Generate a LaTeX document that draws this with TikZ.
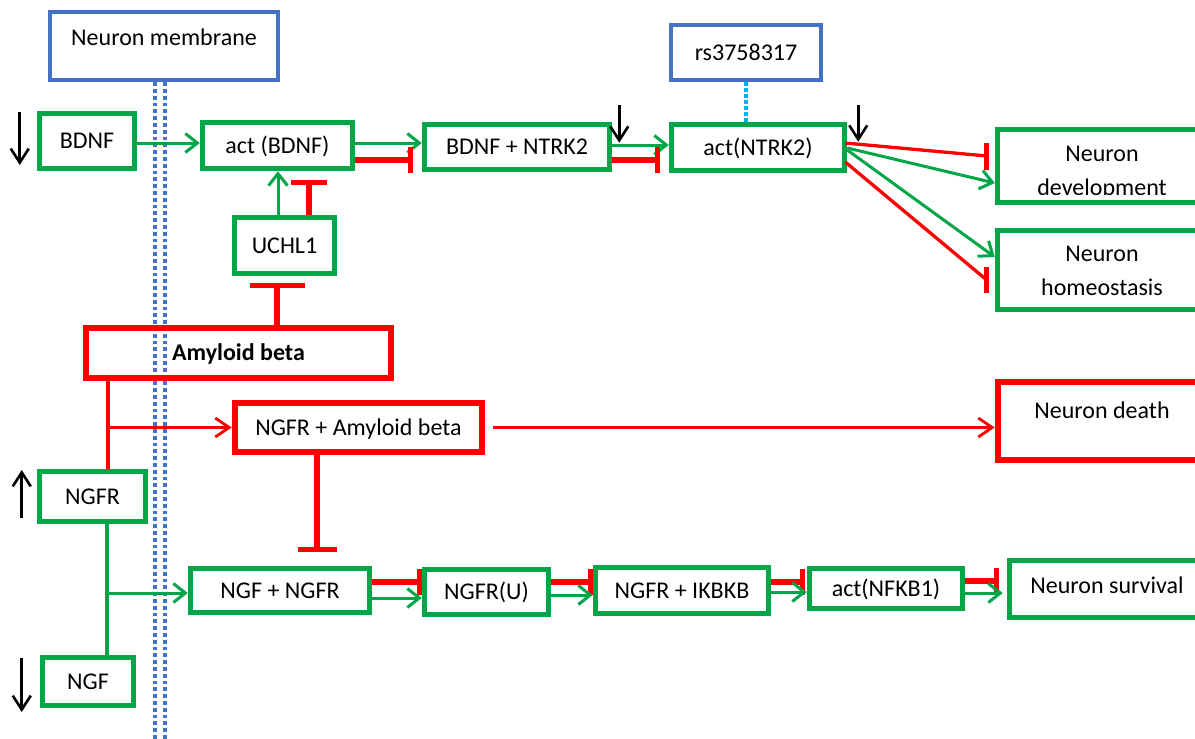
\documentclass[tikz,border=0pt]{standalone}
\usepackage{fontspec}
\setmainfont{Carlito}
\usetikzlibrary{arrows.meta,calc}
\definecolor{pgreen}{RGB}{0,166,72}
\definecolor{pred}{RGB}{255,0,0}
\definecolor{pblue}{RGB}{68,114,196}
\definecolor{psnp}{RGB}{0,176,240}

\begin{document}
\begin{tikzpicture}[x=1pt,y=-1pt,
  box/.style={draw, rectangle, inner sep=0pt, text height=16pt, text depth=1pt,
    font=\fontsize{24}{29}\selectfont},
  gbox/.style={box, draw=pgreen, line width=5.5pt},
  rbox/.style={box, draw=pred, line width=6.5pt},
  bbox/.style={box, draw=pblue, line width=4.5pt},
  lbl/.style={inner sep=0pt, align=center, font=\fontsize{24}{34}\selectfont},
  actarr/.style={draw=pgreen, line width=3pt, -{Straight Barb[length=12pt,width=19pt]}},
  gline/.style={draw=pgreen, line width=3.2pt},
  redarr/.style={draw=pred, line width=2.8pt, -{Straight Barb[length=14pt,width=19pt]}},
  redline/.style={draw=pred, line width=3.5pt},
  inhline/.style={draw=pred, line width=5.5pt, -{Bar[width=#1,line width=5pt]}},
  inhline/.default=26pt,
  thinred/.style={draw=pred, line width=3.3pt},
  tbar/.style={draw=pred, line width=5pt},
  memline/.style={draw=pblue, line width=4pt, dash pattern=on 3.8pt off 3pt},
  snpline/.style={draw=psnp, line width=3.5pt, dash pattern=on 3.5pt off 2.5pt},
  trend/.style={draw=black, line width=2.6pt, -{Straight Barb[length=14pt,width=18pt]}},
]
\useasboundingbox (0,0) rectangle (1195,739);
\clip (0,0) rectangle (1195,739);

% membrane: double dotted line below its label box
\node[bbox, minimum width=228pt, minimum height=68pt] (membrane) at (164,46) {};
\node[lbl] (membrane-t) at (164,37) {Neuron membrane};
\coordinate (memfloor) at (164,745);
\draw[memline] ($(membrane.south)+(-9,0)$) -- ($(memfloor)+(-9,0)$);
\draw[memline] ($(membrane.south)+(1,0)$) -- ($(memfloor)+(1,0)$);

% upper pathway
\node[gbox, minimum width=95pt, minimum height=55pt] (bdnf) at (87,141) {BDNF};
\node[gbox, minimum width=150pt, minimum height=46pt] (actbdnf) at (277.5,145.5) {act (BDNF)};
\node[gbox, minimum width=185pt, minimum height=45pt] (bn) at (517,147) {BDNF + NTRK2};
\node[bbox, minimum width=150pt, minimum height=55pt] (rs) at (746,52.5) {rs3758317};
\node[gbox, minimum width=173pt, minimum height=46pt] (actntrk) at (758,147.5) {act(NTRK2)};
\node[gbox, minimum width=209pt, minimum height=73pt] (dev) at (1102,166) {};
\begin{scope}
  \clip (990,120) rectangle (1195,194.5);
  \node[lbl] (dev-t) at (1102,173) {Neuron\\development};
\end{scope}
\node[gbox, minimum width=209pt, minimum height=79pt] (homeo) at (1102,270) {};
\node[lbl] (homeo-t) at (1102,271) {Neuron\\homeostasis};
\node[gbox, minimum width=100pt, minimum height=56pt] (uchl) at (284.5,245.5) {UCHL1};

% amyloid beta and lower pathway
\node[rbox, minimum width=305pt, minimum height=50pt] (amy) at (238.5,353) {\bfseries Amyloid beta};
\node[rbox, minimum width=247pt, minimum height=49pt] (ngfra) at (358.5,427.5) {NGFR + Amyloid beta};
\node[rbox, minimum width=208pt, minimum height=78pt] (death) at (1102,421) {};
\node[lbl] (death-t) at (1102,410) {Neuron death};
\node[gbox, minimum width=106pt, minimum height=50pt] (ngfr) at (92.5,496.5) {NGFR};
\node[gbox, minimum width=91pt, minimum height=48pt] (ngf) at (88,681.5) {NGF};
\node[gbox, minimum width=179pt, minimum height=44pt] (ngfngfr) at (280,590.5) {NGF + NGFR};
\node[gbox, minimum width=124pt, minimum height=45pt] (ngfru) at (486.5,592) {NGFR(U)};
\node[gbox, minimum width=173pt, minimum height=46pt] (ikbkb) at (682,590.5) {NGFR + IKBKB};
\node[gbox, minimum width=153pt, minimum height=40pt] (nfkb) at (886,588.5) {act(NFKB1)};
\node[gbox, minimum width=195pt, minimum height=57pt] (surv) at (1107,589) {};
\node[lbl] (surv-t) at (1107,585) {Neuron survival};

% expression trends
\draw[trend] ($(bdnf.west)+(-17,-29)$) -- ($(bdnf.west)+(-17,24)$);
\draw[trend] ($(bn.north east)+(7,-17)$) -- ($(bn.north east)+(7,21)$);
\draw[trend] ($(actntrk.north east)+(11,-17)$) -- ($(actntrk.north east)+(11,20)$);
\draw[trend] ($(ngfr.west)+(-15,21.5)$) -- ($(ngfr.west)+(-15,-26.5)$);
\draw[trend] ($(ngf.west)+(-18,-23.5)$) -- ($(ngf.west)+(-18,30.5)$);

% BDNF signalling
\draw[actarr] ($(bdnf.east)+(0,2)$) -- ($(actbdnf.west)+(0,-2.5)$);
\draw[actarr] ($(actbdnf.east)+(0,-2.5)$) -- ($(bn.west)+(0,-4)$);
\draw[inhline] ($(actbdnf.east)+(0,14.5)$) -- ($(bn.west)+(-9,13)$);
\draw[actarr] ($(bn.east)+(0,-2)$) -- ($(actntrk.west)+(0,-2.5)$);
\draw[inhline] ($(bn.east)+(0,13)$) -- ($(actntrk.west)+(-9,12.5)$);
\draw[snpline] (rs.south) -- (rs.south |- actntrk.north);

% outcomes of NTRK2 activation
\coordinate (devbar) at ($(dev.west)+(-8,-10)$);
\coordinate (homeobar) at ($(homeo.west)+(-8,10)$);
\draw[thinred] ($(actntrk.east)+(-2,-4.5)$) -- (devbar);
\draw[tbar] ($(devbar)+(0,-13.5)$) -- ($(devbar)+(0,13.5)$);
\draw[actarr] ($(actntrk.east)+(0,0.5)$) -- ($(dev.west)+(0,17)$);
\draw[actarr] ($(actntrk.east)+(0,2.5)$) -- ($(homeo.west)+(0,-13)$);
\draw[thinred] ($(actntrk.east)+(-2,14.5)$) -- (homeobar);
\draw[tbar] ($(homeobar)+(0,-13)$) -- ($(homeobar)+(0,13)$);

% UCHL1 on act(BDNF), amyloid beta on UCHL1
\coordinate (uga) at ($(uchl.north)+(-6.5,0)$);
\draw[actarr] (uga) -- (uga |- actbdnf.south);
\draw[inhline=36pt] ($(uchl.north)+(24.5,0)$) -- ($(actbdnf.south)+(31.5,9)$);
\coordinate (ub) at ($(uchl.south)+(-7.5,7)$);
\draw[inhline=55pt] (ub |- amy.north) -- (ub);

% amyloid beta binding NGFR
\coordinate (ax) at ($(ngfr.north)+(15.5,0)$);
\draw[redline] (ax) -- (ax |- amy.south);
\draw[redarr] (ax |- ngfra.west) -- (ngfra.west);
\draw[redarr] ($(ngfra.east)+(8,0)$) -- (ngfra.east -| death.west);
\coordinate (nb) at ($(ngfngfr.north)+(37,-14)$);
\draw[inhline=39pt] (nb |- ngfra.south) -- (nb);

% NGF / NGFR complex and survival chain
\coordinate (nx) at ($(ngfr.south)+(14.5,0)$);
\draw[gline] (nx) -- (nx |- ngf.north);
\coordinate (nin) at ($(ngfngfr.west)+(0,2.5)$);
\draw[actarr] (nin -| nx) -- (nin);

\draw[inhline] ($(ngfngfr.east)+(0,-8.5)$) -- ($(ngfru.west)+(0,-10)$);
\draw[actarr] ($(ngfngfr.east)+(0,7.5)$) -- ($(ngfru.west)+(0,6)$);
\draw[inhline] ($(ngfru.east)+(0,-10)$) -- ($(ikbkb.west)+(0,-8.5)$);
\draw[actarr] ($(ngfru.east)+(0,3)$) -- ($(ikbkb.west)+(0,4.5)$);
\draw[inhline] ($(ikbkb.east)+(0,-8.5)$) -- ($(nfkb.west)+(-2,-6.5)$);
\draw[actarr] ($(ikbkb.east)+(0,1.5)$) -- ($(nfkb.west)+(0,3.5)$);
\draw[inhline] ($(nfkb.east)+(0,-7.5)$) -- ($(surv.west)+(-8,-8)$);
\draw[actarr] ($(nfkb.east)+(0,4.5)$) -- ($(surv.west)+(-4,4)$);
\end{tikzpicture}
\end{document}
